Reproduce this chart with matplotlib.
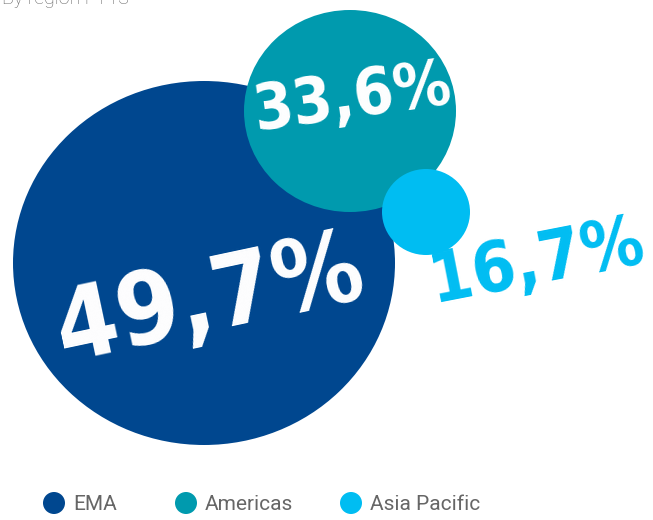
import matplotlib
matplotlib.use("Agg")
import matplotlib.pyplot as plt
from matplotlib.patches import Ellipse

# shares by region
regions = ["EMA", "Americas", "Asia Pacific"]
shares = [49.7, 33.6, 16.7]
labels = ["49,7%", "33,6%", "16,7%"]
colors = ["#00478f", "#009aae", "#00bdf2"]

# bubble layout (pixels)
centers = [(204, 263), (350, 111), (426, 212)]
radii = [(191, 182), (106, 101), (44, 43)]

# label placement (pixels), rotation and size
label_pos = [(210, 302), (352, 98), (537, 262)]
label_rot = [12, 8, 11]
label_size = [72, 46, 50]
label_color = ["white", "white", "#00bdf2"]

grey = "#666666"

fig = plt.figure(figsize=(6.53, 5.2), dpi=100)
ax = fig.add_axes([0, 0, 1, 1])
ax.set_xlim(0, 653)
ax.set_ylim(520, 0)
ax.axis("off")

for c, r, col in zip(centers, radii, colors):
    ax.add_patch(Ellipse(c, 2 * r[0], 2 * r[1], color=col, lw=0))

for lab, p, rot, s, col in zip(labels, label_pos, label_rot, label_size, label_color):
    ax.text(p[0], p[1], lab, color=col, fontsize=s, rotation=rot,
            rotation_mode="anchor", ha="center", va="center",
            family="DejaVu Sans", fontstretch="condensed", fontweight="bold")

# subtitle, cut off at the top edge as in the source
ax.text(2, 4, "By region FY13", color=grey, fontsize=14, family="Roboto",
        fontweight="light", ha="left", va="baseline")

# legend
leg_x = [54, 186, 351]
for x, name, col in zip(leg_x, regions, colors):
    ax.add_patch(Ellipse((x, 503), 22, 22, color=col, lw=0))
    ax.text(x + 19, 504, name, color=grey, fontsize=15, family="Roboto",
            ha="left", va="center")

fig.savefig("out.png", dpi=100)
